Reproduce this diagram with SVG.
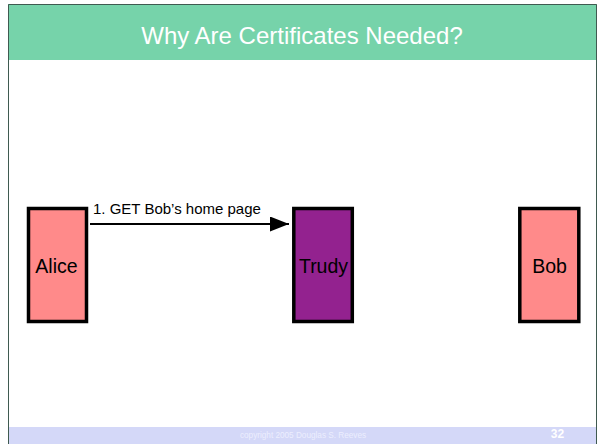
<svg xmlns="http://www.w3.org/2000/svg" width="598" height="444" viewBox="0 0 598 444">
<style>
.node{stroke:#000;stroke-width:3.5}
.lbl{font-family:"Liberation Sans",Arial,sans-serif;font-size:19.5px;fill:#000;text-anchor:middle}
</style>
<defs>
<marker id="ah" markerUnits="userSpaceOnUse" markerWidth="20" markerHeight="16" refX="19" refY="7.5" orient="auto">
<path d="M0,0 L19,7.5 L0,15 Z" fill="#000"/>
</marker>
</defs>
<rect x="0" y="0" width="598" height="444" fill="#fff"/>
<rect x="8" y="4" width="589" height="56" fill="#76D3AA"/>
<rect x="8" y="427" width="589" height="17" fill="#D4D8F8"/>
<path d="M8.5,444 V4.5 H596.5 V444" fill="none" stroke="#3f5a50" stroke-width="1"/>
<text x="302" y="44" font-family="Liberation Sans,Arial,sans-serif" font-size="24" fill="#fff" text-anchor="middle">Why Are Certificates Needed?</text>
<text x="303" y="438" font-family="Liberation Sans,Arial,sans-serif" font-size="8.2" fill="#eceefe" text-anchor="middle">copyright 2005 Douglas S. Reeves</text>
<text x="557.5" y="437.5" font-family="Liberation Sans,Arial,sans-serif" font-size="12" font-weight="bold" fill="#fff" text-anchor="middle">32</text>
<g id="connectors">
<line x1="90" y1="224" x2="289" y2="224" stroke="#000" stroke-width="2" marker-end="url(#ah)"/>
<text x="93" y="214" font-family="Liberation Sans,Arial,sans-serif" font-size="15" fill="#000">1. GET Bob’s home page</text>
</g>
<g id="alice">
<rect class="node" x="28.5" y="208.5" width="58" height="113" fill="#FF8A8A"/>
<text class="lbl" x="56.5" y="272.5">Alice</text>
</g>
<g id="trudy">
<rect class="node" x="293.8" y="208.5" width="58.5" height="113" fill="#93228F"/>
<text class="lbl" x="323.5" y="272.5">Trudy</text>
</g>
<g id="bob">
<rect class="node" x="519.8" y="208.5" width="59" height="113" fill="#FF8A8A"/>
<text class="lbl" x="549.5" y="272.5">Bob</text>
</g>
</svg>
